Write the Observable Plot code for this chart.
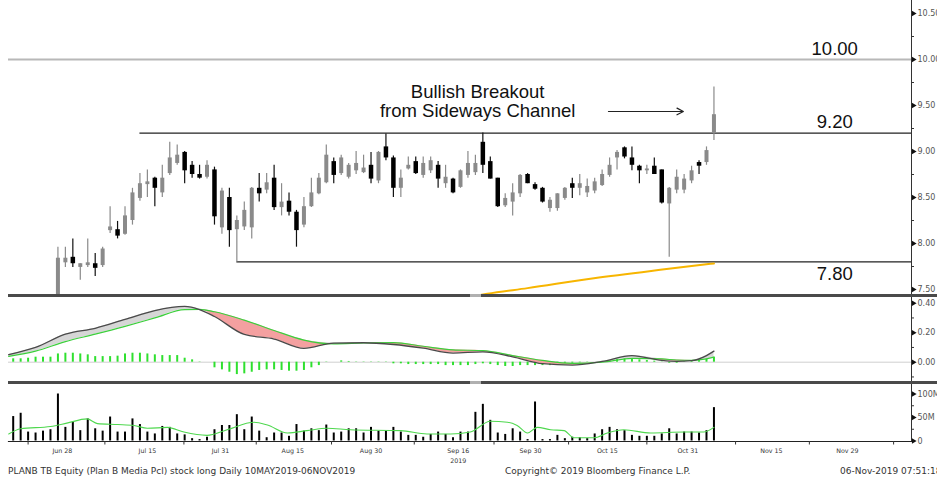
<!DOCTYPE html>
<html><head><meta charset="utf-8">
<script src="https://cdn.jsdelivr.net/npm/d3@7"></script>
<script src="https://cdn.jsdelivr.net/npm/@observablehq/plot@0.6"></script>
<style>
body{margin:0;background:#fff;}
#wrap{position:relative;width:937px;height:482px;overflow:hidden;background:#fff;font-family:"DejaVu Sans",sans-serif;}
.panel{position:absolute;left:0;}
.sep{position:absolute;left:8px;width:929px;height:3px;background:#4a4a4a;}
.knob{position:absolute;left:470px;width:11px;height:3px;background:#b0b0b0;}
.foot{position:absolute;top:466px;font-size:9px;line-height:10px;color:#333;white-space:nowrap;}
</style></head><body><div id="wrap"></div>
<script>
// ---------- data ----------
const candleStart = 6; // bar index of first visible candle
const opens = [7.35,7.79,7.85,7.74,7.76,7.78,7.76,8.14,8.15,8.10,
8.25,8.49,8.64,8.71,8.55,8.76,8.87,8.99,8.85,8.75,
8.72,8.80,8.17,8.50,8.15,8.18,8.17,8.60,8.58,8.71,
8.39,8.46,8.34,8.20,8.40,8.54,8.66,8.89,8.76,8.72,
8.79,8.77,8.85,8.68,9.05,8.93,8.60,8.81,8.89,8.74,
8.79,8.85,8.65,8.70,8.61,8.74,8.77,9.10,8.89,8.71,
8.41,8.45,8.54,8.75,8.64,8.60,8.38,8.38,8.49,8.65,
8.60,8.55,8.57,8.63,8.74,8.93,9.04,8.93,8.84,8.79,
8.84,8.80,8.43,8.58,8.58,8.68,8.88,8.88,9.20];
const highs = [7.96,7.96,8.05,7.78,8.05,7.89,7.96,8.40,8.24,8.40,
8.60,8.76,8.80,8.72,8.85,9.10,9.07,9.00,8.89,8.85,
8.90,8.83,8.60,8.60,8.30,8.45,8.61,8.76,8.76,8.85,
8.65,8.55,8.36,8.50,8.71,8.76,9.07,8.93,8.96,8.87,
9.00,8.96,8.99,9.00,9.19,8.95,8.80,8.94,8.94,8.94,
8.94,8.89,8.85,8.71,8.80,9.00,8.96,9.20,8.94,8.71,
8.54,8.65,8.75,8.76,8.66,8.61,8.50,8.54,8.61,8.71,
8.75,8.70,8.71,8.80,8.93,9.01,9.05,9.05,8.85,8.85,
8.93,8.80,8.61,8.80,8.75,8.84,8.90,9.05,9.70];
const lows = [7.30,7.74,7.74,7.60,7.74,7.64,7.74,8.11,8.05,8.09,
8.20,8.46,8.50,8.40,8.50,8.74,8.85,8.65,8.71,8.70,
8.70,8.20,8.10,7.96,7.80,8.14,8.05,8.45,8.54,8.36,
8.30,8.30,7.96,8.17,8.39,8.53,8.65,8.65,8.74,8.70,
8.75,8.76,8.65,8.65,8.90,8.50,8.50,8.80,8.75,8.71,
8.76,8.60,8.60,8.54,8.60,8.71,8.74,8.76,8.70,8.39,
8.39,8.30,8.50,8.65,8.58,8.44,8.34,8.35,8.47,8.49,
8.52,8.50,8.54,8.62,8.72,8.80,8.92,8.79,8.65,8.75,
8.75,8.43,7.85,8.54,8.54,8.65,8.75,8.85,9.12];
const closes = [7.84,7.84,7.78,7.78,7.79,7.73,7.94,8.18,8.08,8.30,
8.55,8.65,8.67,8.60,8.71,8.93,8.96,8.79,8.75,8.71,
8.85,8.29,8.57,8.14,8.25,8.36,8.60,8.54,8.66,8.39,
8.45,8.34,8.14,8.40,8.55,8.71,8.96,8.74,8.93,8.85,
8.87,8.82,8.70,8.99,8.93,8.60,8.71,8.85,8.76,8.87,
8.90,8.70,8.72,8.55,8.79,8.87,8.87,8.85,8.70,8.40,
8.49,8.55,8.74,8.65,8.59,8.45,8.47,8.54,8.60,8.60,
8.65,8.62,8.67,8.75,8.85,8.99,8.94,8.85,8.79,8.81,
8.75,8.44,8.60,8.72,8.70,8.79,8.84,9.01,9.40];

const maIdx  = [60, 63.6, 69, 77.9, 86.8, 94];
const maVals = [7.40, 7.453, 7.515, 7.623, 7.714, 7.783];

const levelValues = [10.00, 9.20, 7.80];
const levelStarts = [-0.63, 17, 30];
const levelLabels = ["10.00", "9.20", "7.80"];
const levelLabelX = 110.2;

const noteText = "Bullish Breakout\nfrom Sideways Channel";
const noteX = 62.3, noteY = 9.37;
const arrowFrom = [79.85, 9.435], arrowTo = [89.9, 9.435];

const priceTicks = [7.5, 8.0, 8.5, 9.0, 9.5, 10.0, 10.5];
const priceMinor = [7.75, 8.25, 8.75, 9.25, 9.75, 10.25];

const macdIdx = [-0.6, 3, 7, 11, 15, 19, 23, 25, 27, 31, 35, 39, 43, 47, 51, 55, 59, 63, 67, 71, 75, 79, 83, 87, 89, 91, 93, 94];
const macdVals = [0.052,0.10,0.19,0.23,0.29,0.35,0.378,0.357,0.31,0.188,0.157,0.094,0.13,0.132,0.12,0.095,0.062,0.07,0.036,-0.01,-0.02,0.005,0.045,0.012,0.006,0.01,0.045,0.075];
const signalVals = [0.039,0.075,0.14,0.19,0.243,0.30,0.357,0.358,0.342,0.285,0.215,0.15,0.124,0.13,0.133,0.108,0.084,0.078,0.045,0.012,-0.008,0.0,0.026,0.022,0.015,0.012,0.022,0.034];
const histVals = [0.023,0.023,0.027,0.034,0.034,0.034,0.056,0.061,0.061,0.056,
0.050,0.038,0.038,0.038,0.041,0.056,0.061,0.061,0.056,0.050,
0.045,0.045,0.045,0.027,0.016,0.002,0.0,-0.038,-0.052,-0.068,
-0.084,-0.079,-0.068,-0.056,-0.052,-0.052,-0.056,-0.061,-0.061,-0.056,
-0.038,-0.023,-0.002,0.0,0.009,0.005,0.002,0.002,0.002,0.002,
-0.002,-0.011,-0.011,-0.016,-0.016,-0.016,-0.016,-0.016,-0.023,-0.023,
-0.023,-0.023,-0.016,-0.011,-0.016,-0.023,-0.029,-0.029,-0.023,-0.023,
-0.023,-0.023,-0.023,-0.016,-0.011,-0.007,-0.005,-0.002,0.0,0.005,
0.011,0.023,0.023,0.023,0.016,0.011,0.007,-0.002,-0.007,-0.007,
-0.002,0.005,0.011,0.023,0.034];
const macdTicks = [0, 0.2, 0.4];
const macdMinor = [-0.1, 0.1, 0.3];

const volumes = [52,59,19,17,21,24,100,29,40,22,
47,26,21,51,19,19,47,35,19,15,
31,29,15,13,5,3,8,24,33,33,
56,24,51,21,7,17,17,10,35,21,
26,22,34,17,19,26,26,17,29,21,
21,29,19,12,12,8,14,19,14,7,
19,19,61,78,44,17,14,26,19,3,
83,3,3,12,5,8,7,5,15,24,
29,24,22,12,10,10,10,15,26,15,
19,19,17,22,71];
const volMAIdx = [-0.6,1,5,7.2,9.9,11.3,14,16.2,18,20.7,22.9,26,28.7,32.3,34.1,36.8,39.4,42.1,45.2,52,55.5,58.7,61.3,64,66.3,67.6,69,70.3,72.1,73.9,75.2,77.9,79.7,81.9,85.5,90,92.6,94];
const volMAVals = [15,26,31,38,47,37,35,33,27,29,19,12,24,40,34,17,22,27,24,22,15,15,19,42,40,33,17,29,24,22,7,7,17,24,17,19,19,29];
const volTicks = [0, 50, 100];
const volTickLabels = ["0", "50M", "100M"];
const volMinor = [25, 75];

const dateTickPos = [6.6, 18, 27.8, 37.5, 48, 59.7, 69.4, 79.7, 90.5, 101.7, 111.9];
const dateTickLabels = ["Jun 28","Jul 15","Jul 31","Aug 15","Aug 30","Sep 16\n2019","Sep 30","Oct 15","Oct 31","Nov 15","Nov 29"];
const dateMinor = [2, 12.3, 22.9, 32.6, 42.7, 53.8, 64.5, 74.5, 85, 96.9, 106.8, 118.1];

const footLeft = "PLANB TB Equity (Plan B Media Pcl) stock long  Daily 10MAY2019-06NOV2019";
const footMid = "Copyright\u00a9 2019 Bloomberg Finance L.P.";
const footRight = "06-Nov-2019 07:51:18";

// ---------- build ----------
const X_DOMAIN = [-0.63, 120.5];
const XR = X_DOMAIN[1];
const common = {width: 937, marginLeft: 8, marginRight: 26,
  style: {background: "transparent", overflow: "visible", fontFamily: "DejaVu Sans, sans-serif"}};
const AX = "#555";
const rightAxis = (ticks, fmt) => Plot.axisY({anchor: "right", ticks, tickSize: 0, tickPadding: 6,
  tickFormat: fmt, fontSize: 8, fill: AX, label: null});
const minorTicks = (ticks) => Plot.ruleY(ticks, {y: d => d, x1: XR, x2: XR, insetRight: -3, stroke: "#333"});
const markers = (ticks) => Plot.dot(ticks, {y: d => d, frameAnchor: "right", symbol: "triangle", rotate: 90, r: 2, fill: "#111", dx: 2});

const candles = opens.map((o, k) => ({i: candleStart + k, o, h: highs[k], l: lows[k], c: closes[k]}));
const up = candles.filter(d => d.c >= d.o), dn = candles.filter(d => d.c < d.o);
const maRows = maIdx.map((i, k) => ({i, v: maVals[k]}));
const levels = levelValues.map((v, k) => ({v, start: levelStarts[k], label: levelLabels[k]}));

const price = Plot.plot({...common, height: 295, marginTop: 0, marginBottom: 0,
  x: {domain: X_DOMAIN, axis: null, label: null},
  y: {domain: [7.5, 10.5], range: [289, 13], axis: null, label: null},
  marks: [
    Plot.ruleY(levels.slice(0, 1), {y: "v", x1: "start", x2: XR, stroke: "#b8b8b8", strokeWidth: 2}),
    Plot.ruleY(levels.slice(1), {y: "v", x1: "start", x2: XR, stroke: "#222", strokeWidth: 1.4}),
    Plot.line(maRows, {x: "i", y: "v", stroke: "#f7b500", strokeWidth: 2, curve: "monotone-x", clip: true}),
    Plot.ruleX(up, {x: "i", y1: "l", y2: "h", stroke: "#8a8a8a", strokeWidth: 1.2, clip: true}),
    Plot.ruleX(dn, {x: "i", y1: "l", y2: "h", stroke: "#111", strokeWidth: 1.2, clip: true}),
    Plot.ruleX(up, {x: "i", y1: "o", y2: "c", stroke: "#8a8a8a", strokeWidth: 4, clip: true}),
    Plot.ruleX(dn, {x: "i", y1: "o", y2: "c", stroke: "#000", strokeWidth: 4.5, clip: true}),
    Plot.text(levels.slice(0, 2), {x: levelLabelX, y: "v", text: "label", lineAnchor: "bottom", dy: -5,
      fontSize: 18.5, fontFamily: "Liberation Sans, Arial, sans-serif", fill: "#111"}),
    Plot.text(levels.slice(2), {x: levelLabelX, y: "v", text: "label", lineAnchor: "bottom", dy: 18,
      fontSize: 18.5, fontFamily: "Liberation Sans, Arial, sans-serif", fill: "#111"}),
    Plot.text([noteText], {x: noteX, y: noteY, text: d => d, fontSize: 18.5, lineAnchor: "bottom", lineHeight: 1.03,
      fontFamily: "Liberation Sans, Arial, sans-serif", fill: "#111"}),
    Plot.arrow([0], {x1: arrowFrom[0], y1: arrowFrom[1], x2: arrowTo[0], y2: arrowTo[1],
      stroke: "#222", strokeWidth: 1.2, headLength: 9, headAngle: 55}),
    Plot.frame({anchor: "right", stroke: "#333"}),
    minorTicks(priceMinor),
    markers(priceTicks),
    rightAxis(priceTicks, d3.format(".2f"))
  ]
});

const macdRows = macdIdx.map((i, k) => ({i, m: macdVals[k], s: signalVals[k]}));
const histRows = histVals.map((v, i) => ({i, v}));
const macd = Plot.plot({...common, height: 84, marginTop: 0, marginBottom: 0,
  x: {domain: X_DOMAIN, axis: null, label: null},
  y: {domain: [-0.1, 0.4], range: [79.45, 5.7], axis: null, label: null},
  marks: [
    Plot.ruleY([0], {stroke: "#cfcfcf", strokeWidth: 1}),
    Plot.ruleX(histRows, {x: "i", y1: 0, y2: "v", stroke: "#2fe02f", strokeWidth: 2}),
    Plot.areaY(macdRows, {x: "i", y1: "s", y2: d => Math.max(d.m, d.s), fill: "#d6d6d6", curve: "monotone-x"}),
    Plot.areaY(macdRows, {x: "i", y1: "s", y2: d => Math.min(d.m, d.s), fill: "#f4a0a0", curve: "monotone-x"}),
    Plot.line(macdRows, {x: "i", y: "s", stroke: "#3ccf3c", strokeWidth: 1.2, curve: "monotone-x"}),
    Plot.line(macdRows, {x: "i", y: "m", stroke: "#4a4a4a", strokeWidth: 1.3, curve: "monotone-x"}),
    Plot.frame({anchor: "right", stroke: "#333"}),
    minorTicks(macdMinor),
    markers(macdTicks),
    rightAxis(macdTicks, d3.format(".2f"))
  ]
});

const volRows = volumes.map((v, i) => ({i, v}));
const volMARows = volMAIdx.map((i, k) => ({i, v: volMAVals[k]}));
const dateRows = dateTickPos.map((p, k) => ({p, t: dateTickLabels[k]}));
const vol = Plot.plot({...common, height: 98, marginTop: 0, marginBottom: 41,
  x: {domain: X_DOMAIN, axis: null, label: null},
  y: {domain: [0, 100], range: [56.5, 9.5], axis: null, label: null},
  marks: [
    Plot.ruleX(volRows, {x: "i", y1: 0, y2: "v", stroke: "#000", strokeWidth: 2}),
    Plot.line(volMARows, {x: "i", y: "v", stroke: "#4fd84f", strokeWidth: 1.1, curve: "monotone-x"}),
    Plot.frame({anchor: "right", stroke: "#333"}),
    Plot.frame({anchor: "bottom", stroke: "#222", strokeWidth: 1.2}),
    Plot.axisX({anchor: "bottom", ticks: dateMinor, tickSize: 3.5, tickFormat: () => "", stroke: "#333", label: null}),
    Plot.text(dateRows, {x: "p", text: "t", frameAnchor: "bottom", lineAnchor: "top", dy: 4,
      fontSize: 6.3, lineHeight: 1.6, fill: "#333"}),
    minorTicks(volMinor),
    markers(volTicks),
    rightAxis(volTicks, (d) => volTickLabels[volTicks.indexOf(d)])
  ]
});

const wrap = document.getElementById("wrap");
function place(el, top) { const d = document.createElement("div"); d.className = "panel"; d.style.top = top + "px"; d.appendChild(el); wrap.appendChild(d); }
place(price, 0);
place(macd, 297);
place(vol, 384);
for (const t of [294, 381]) {
  const s = document.createElement("div"); s.className = "sep"; s.style.top = t + "px"; wrap.appendChild(s);
  const k = document.createElement("div"); k.className = "knob"; k.style.top = t + "px"; wrap.appendChild(k);
}
[[footLeft, 8], [footMid, 505], [footRight, 840]].forEach(([txt, left]) => {
  const f = document.createElement("div"); f.className = "foot"; f.style.left = left + "px"; f.textContent = txt; wrap.appendChild(f);
});
</script></body></html>
